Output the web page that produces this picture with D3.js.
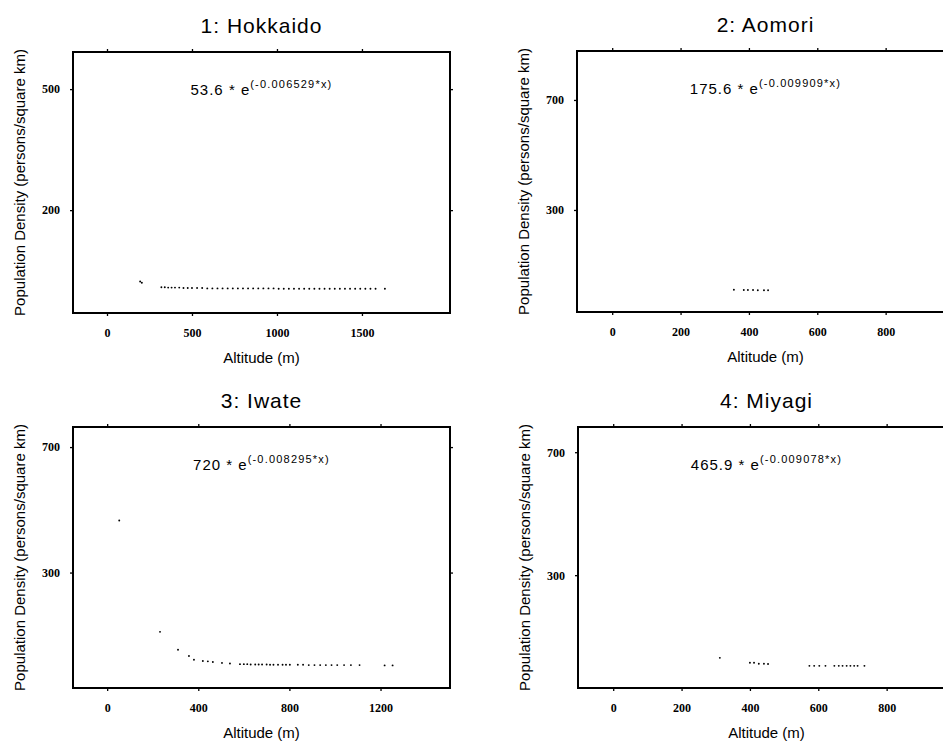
<!DOCTYPE html>
<html>
<head>
<meta charset="utf-8">
<script src="https://cdn.jsdelivr.net/npm/d3@7"></script>
<style>
  body { margin: 0; background: #fff; }
  svg { display: block; font-family: "Liberation Sans", Arial, sans-serif; }
  .tick text { font-family: "Liberation Serif", serif; font-weight: bold; font-size: 12px; fill: #000; }
  .tick line { stroke: #000; stroke-width: 1.3; }
</style>
</head>
<body>
<svg id="chart" width="943" height="741"></svg>
<script>
// values
const hokkaidoAltitude = [195, 205, 320, 340, 360, 380, 400, 425, 450, 475, 500, 530, 560, 590, 620, 650, 680, 710, 740, 770, 800,
  830, 860, 890, 920, 950, 980, 1010, 1040, 1070, 1100, 1130, 1160, 1190, 1220, 1250, 1280, 1310, 1340, 1370, 1400,
  1430, 1460, 1490, 1520, 1550, 1580, 1635];
const hokkaidoDensity = [23, 20, 9, 9, 8, 8, 8, 8, 7, 7, 7, 7, 7, 6, 6, 6, 6, 6, 6, 6, 6,
  6, 6, 6, 6, 6, 6, 5, 5, 5, 5, 5, 5, 5, 5, 5, 5, 5, 5, 5, 5,
  5, 5, 5, 5, 5, 5, 5];

const aomoriAltitude = [356, 385, 397, 412, 426, 444, 456];
const aomoriDensity = [10, 9, 9, 9, 8, 8, 8];

const iwateAltitude = [53, 232, 311, 359, 381, 420, 442, 464, 504, 539, 583, 600, 615, 630, 650, 665, 680, 700, 715, 730,
  750, 770, 785, 802, 837, 860, 885, 910, 935, 960, 985, 1010, 1040, 1070, 1108, 1218, 1253];
const iwateDensity = [466, 111, 54, 34, 22, 18, 17, 15, 12, 10, 8, 8, 8, 7, 7, 7, 7, 7, 6, 6,
  6, 6, 6, 6, 6, 6, 5, 5, 5, 5, 5, 5, 5, 5, 5, 4, 4];

const miyagiAltitude = [312, 400, 412, 426, 441, 453, 574, 588, 603, 621, 647, 660, 671, 683, 694, 705, 715, 735];
const miyagiDensity = [31, 15, 15, 12, 12, 11, 5, 5, 5, 5, 5, 5, 5, 5, 5, 5, 5, 5];

const panelTitles = ["1: Hokkaido", "2: Aomori", "3: Iwate", "4: Miyagi"];
const fitCoef = ["53.6", "175.6", "720", "465.9"];
const fitRate = ["-0.006529", "-0.009909", "-0.008295", "-0.009078"];

const xTicks = [[0, 500, 1000, 1500], [0, 200, 400, 600, 800], [0, 400, 800, 1200], [0, 200, 400, 600, 800]];
const yTicks = [[200, 500], [300, 700], [300, 700], [300, 700]];
const xDomains = [[-200, 2018], [-103, 1000], [-150, 1505], [-103, 1000]];
const yDomains = [[-55, 592], [-71, 878], [-68, 764], [-67, 782]];

const series = [
  [hokkaidoAltitude, hokkaidoDensity],
  [aomoriAltitude, aomoriDensity],
  [iwateAltitude, iwateDensity],
  [miyagiAltitude, miyagiDensity],
];

// panel placement on the page
const panels = [
  { left: 73, top: 52 },
  { left: 577, top: 51 },
  { left: 73, top: 427 },
  { left: 578, top: 427 },
];
const width = 377;
const height = 261;

const svg = d3.select("#chart");

panels.forEach((p, i) => {
  const g = svg.append("g").attr("transform", `translate(${p.left},${p.top})`);

  const x = d3.scaleLinear().domain(xDomains[i]).range([0, width]);
  const y = d3.scaleLinear().domain(yDomains[i]).range([height, 0]);

  // axes, ticks outward on all four sides
  g.append("g")
    .attr("transform", `translate(0,${height})`)
    .call(d3.axisBottom(x).tickValues(xTicks[i]).tickSize(3).tickPadding(12).tickFormat(d3.format("d")));
  g.append("g")
    .call(d3.axisTop(x).tickValues(xTicks[i]).tickSize(3).tickFormat(""));
  g.append("g")
    .call(d3.axisLeft(y).tickValues(yTicks[i]).tickSize(3).tickPadding(10).tickFormat(d3.format("d")));
  g.append("g")
    .attr("transform", `translate(${width},0)`)
    .call(d3.axisRight(y).tickValues(yTicks[i]).tickSize(3).tickFormat(""));
  g.selectAll(".domain").remove();

  // frame
  g.append("rect")
    .attr("width", width)
    .attr("height", height)
    .attr("fill", "none")
    .attr("stroke", "#000")
    .attr("stroke-width", 2);

  // points
  const [alt, dens] = series[i];
  g.selectAll(".pt")
    .data(alt)
    .enter()
    .append("circle")
    .attr("class", "pt")
    .attr("cx", (d) => x(d))
    .attr("cy", (d, j) => y(dens[j]))
    .attr("r", 0.95)
    .attr("fill", "#000");

  // title
  g.append("text")
    .attr("x", width / 2)
    .attr("y", -19)
    .attr("text-anchor", "middle")
    .attr("font-size", 21)
    .attr("letter-spacing", 1)
    .text(panelTitles[i]);

  // fitted formula
  const f = g.append("text")
    .attr("x", width / 2)
    .attr("y", 43)
    .attr("text-anchor", "middle")
    .attr("font-size", 15)
    .attr("letter-spacing", 1);
  f.append("tspan").text(`${fitCoef[i]} * e`);
  f.append("tspan")
    .attr("dy", -7)
    .attr("font-size", 11)
    .attr("letter-spacing", 1.2)
    .text(`(${fitRate[i]}*x)`);

  // axis titles
  g.append("text")
    .attr("x", width / 2)
    .attr("y", height + 50)
    .attr("text-anchor", "middle")
    .attr("font-size", 15)
    .text("Altitude (m)");
  g.append("text")
    .attr("transform", `translate(-48,${height / 2}) rotate(-90)`)
    .attr("text-anchor", "middle")
    .attr("font-size", 15)
    .text("Population Density (persons/square km)");
});
</script>
</body>
</html>
